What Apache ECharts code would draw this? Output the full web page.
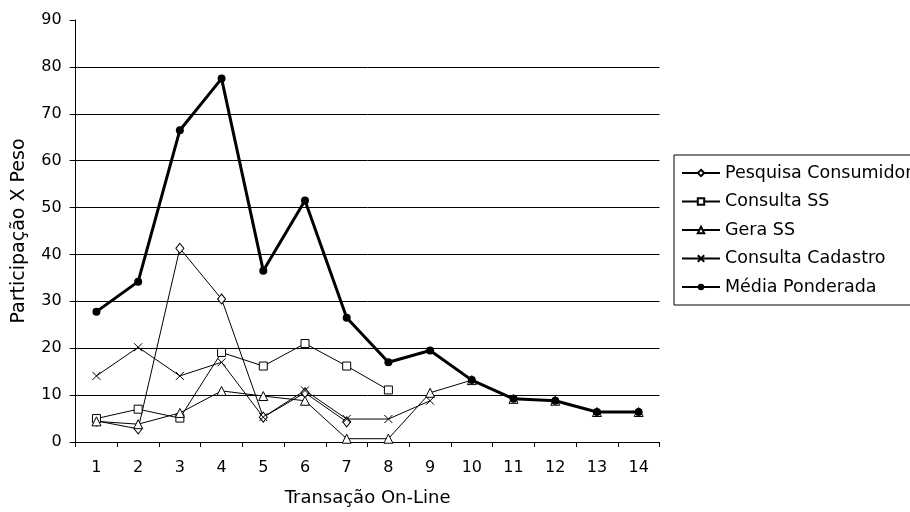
<!DOCTYPE html>
<html>
<head>
<meta charset="utf-8">
<script src="https://cdn.jsdelivr.net/npm/echarts@6/dist/echarts.min.js"></script>
<style>html,body{margin:0;padding:0;background:#fff;}#c{width:910px;height:512px;}</style>
</head>
<body>
<div id="c"></div>
<script>
const categories = ['1','2','3','4','5','6','7','8','9','10','11','12','13','14'];
const pesquisaConsumidor = [4.5, 2.8, 41.3, 30.5, 5.3, 10.5, 4.3, null, null, null, null, null, null, null];
const consultaSS = [5.0, 7.0, 5.1, 19.1, 16.2, 21.0, 16.2, 11.1, null, null, null, null, null, null];
const geraSS = [4.4, 3.8, 6.2, 10.9, 9.8, 8.8, 0.7, 0.7, 10.5, 13.2, 9.2, 8.8, 6.4, 6.4];
const consultaCadastro = [14.1, 20.2, 14.1, 17.0, 5.3, 11.0, 4.9, 4.9, 8.8, null, null, null, null, null];
const mediaPonderada = [27.8, 34.2, 66.5, 77.5, 36.5, 51.5, 26.5, 17.0, 19.5, 13.2, 9.2, 8.8, 6.4, 6.4];
const yTicks = { min: 0, max: 90, interval: 10 };

const FONT = '"DejaVu Sans", sans-serif';
const thin = (name, data, symbol, size) => ({
  name, type: 'line', data, symbol, symbolSize: size, showAllSymbol: true,
  connectNulls: false,
  lineStyle: { color: '#000', width: 1 },
  itemStyle: { color: '#fff', borderColor: '#000', borderWidth: 1 },
  emphasis: { disabled: true },
  animation: false
});

const chart = echarts.init(document.getElementById('c'), null, { renderer: 'canvas' });
chart.setOption({
  backgroundColor: '#fff',
  animation: false,
  textStyle: { fontFamily: FONT },
  grid: { left: 75.6, right: 250.5, top: 20, bottom: 69, containLabel: false },
  legend: {
    orient: 'vertical',
    left: 674, top: 155,
    padding: [8, 6, 8, 7],
    itemGap: 8.5,
    itemWidth: 38, itemHeight: 8,
    borderColor: '#000', borderWidth: 1,
    textStyle: { fontFamily: FONT, fontSize: 17.5, color: '#000', lineHeight: 20 },
    data: ['Pesquisa Consumidor', 'Consulta SS', 'Gera SS', 'Consulta Cadastro', 'Média Ponderada']
  },
  xAxis: {
    type: 'category', data: categories, boundaryGap: true,
    name: 'Transação On-Line', nameLocation: 'middle', nameGap: 47,
    nameTextStyle: { fontFamily: FONT, fontSize: 18, color: '#000' },
    axisLine: { lineStyle: { color: '#000', width: 1 } },
    axisTick: { show: true, alignWithLabel: false, length: 5, lineStyle: { color: '#000' } },
    axisLabel: { color: '#000', fontSize: 16, fontFamily: FONT, margin: 18 },
    splitLine: { show: false }
  },
  yAxis: {
    type: 'value', min: yTicks.min, max: yTicks.max, interval: yTicks.interval,
    name: 'Participação X Peso', nameLocation: 'middle', nameGap: 47,
    nameTextStyle: { fontFamily: FONT, fontSize: 19, color: '#000' },
    axisLine: { show: true, lineStyle: { color: '#000', width: 1 } },
    axisTick: { show: true, length: 6, lineStyle: { color: '#000' } },
    axisLabel: { color: '#000', fontSize: 16, fontFamily: FONT, margin: 14 },
    splitLine: { show: true, showMinLine: false, showMaxLine: false, lineStyle: { color: '#000', width: 1 } }
  },
  series: [
    thin('Pesquisa Consumidor', pesquisaConsumidor, 'diamond', [8, 10]),
    thin('Consulta SS', consultaSS, 'rect', 8),
    thin('Gera SS', geraSS, 'triangle', 9),
    Object.assign(thin('Consulta Cadastro', consultaCadastro, 'path://M0,0L10,10M10,0L0,10', 8), {
      itemStyle: { color: 'none', borderColor: '#000', borderWidth: 1 }
    }),
    {
      name: 'Média Ponderada', type: 'line', data: mediaPonderada,
      symbol: 'circle', symbolSize: 8, showAllSymbol: true,
      lineStyle: { color: '#000', width: 3 },
      itemStyle: { color: '#000', borderColor: '#000', borderWidth: 0 },
      emphasis: { disabled: true },
      animation: false
    }
  ]
});
</script>
</body>
</html>
